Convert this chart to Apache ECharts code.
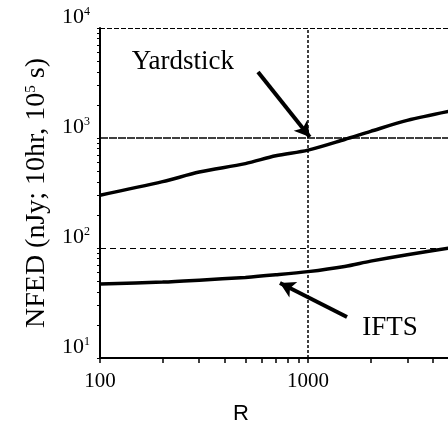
<!DOCTYPE html>
<html>
<head>
<meta charset="utf-8">
<script src="https://cdn.jsdelivr.net/npm/echarts@6/dist/echarts.min.js"></script>
<style>html,body{margin:0;padding:0;background:#fff}#c{width:448px;height:430px}</style>
</head>
<body>
<div id="c"></div>
<script>
// ---- data ----
var rValues = [100, 200, 300, 500, 700, 1000, 1500, 2000, 3000, 5000];
var yardstick = [302, 401, 490, 585, 690, 776, 970, 1150, 1445, 1780];
var ifts = [47, 49, 51, 54, 57, 61, 68, 76, 87, 101];
var xMax = 4710;
var xTickValues = [100,200,300,400,500,600,700,800,900,1000,2000,3000,4000];
var xLabelValues = [100, 1000];
var yTickValues = [10,20,30,40,50,60,70,80,90,100,200,300,400,500,600,700,800,900,1000,2000,3000,4000,5000,6000,7000,8000,9000,10000];
var yLabelValues = [10, 100, 1000, 10000];
var yardstickLabel = 'Yardstick';
var iftsLabel = 'IFTS';
var yardstickTextAt = [250, 4900];
var iftsTextAt = [2480, 18.7];
var yardstickArrow = [[575, 3980], [1020, 1020]];
var iftsArrow = [[1540, 23.6], [733, 48]];

var serif = '"Liberation Serif","DejaVu Serif",serif';
var chart = echarts.init(document.getElementById('c'), null, {renderer: 'canvas'});

function pairs(xs, ys) { return xs.map(function (x, i) { return [x, ys[i]]; }); }

var option = {
  backgroundColor: '#ffffff',
  animation: false,
  grid: {left: 100, top: 28, bottom: 72, right: 0, containLabel: false},
  xAxis: {
    type: 'log', logBase: 10, min: 100, max: xMax,
    name: 'R', nameLocation: 'middle', nameGap: 45,
    nameTextStyle: {fontFamily: '"Liberation Sans",Arial,sans-serif', fontSize: 22, color: '#000', padding: [0, 66, 0, 0]},
    axisLine: {show: true, lineStyle: {color: '#000', width: 2}},
    axisTick: {show: true, length: 5, lineStyle: {color: '#000', width: 1.5}, customValues: xTickValues},
    minorTick: {show: false},
    axisLabel: {customValues: xLabelValues, color: '#000', fontFamily: serif, fontSize: 21, margin: 13,
      formatter: function (v) { return String(Math.round(v)); }},
    splitLine: {show: false}
  },
  yAxis: {
    type: 'log', logBase: 10, min: 10, max: 10000,
    name: '{n|NFED (nJy; 10hr, 10}{s|5}{n| s)}', nameLocation: 'middle', nameGap: 45,
    nameTextStyle: {rich: {
      n: {fontFamily: serif, fontSize: 28, color: '#000'},
      s: {fontFamily: serif, fontSize: 15, color: '#000', verticalAlign: 'top', padding: [0, 0, 12, 0]}
    }},
    axisLine: {show: true, lineStyle: {color: '#000', width: 2}},
    axisTick: {show: true, length: 3, lineStyle: {color: '#000', width: 1}, customValues: yTickValues},
    axisLabel: {
      customValues: yLabelValues, margin: 10, verticalAlign: 'bottom',
      formatter: function (v) { return '{b|10}{s|' + Math.round(Math.log10(v)) + '}'; },
      rich: {
        b: {fontFamily: serif, fontSize: 22, color: '#000', verticalAlign: 'bottom'},
        s: {fontFamily: serif, fontSize: 12, color: '#000', verticalAlign: 'top', padding: [0, 0, 10, 0]}
      }
    },
    splitLine: {show: false}
  },
  series: [
    {
      name: 'Yardstick', type: 'line', data: pairs(rValues, yardstick),
      smooth: 0.3, showSymbol: false, symbol: 'none',
      lineStyle: {color: '#000', width: 3.5}, z: 5,
      markLine: {
        silent: true, symbol: ['none', 'arrow'], symbolSize: [13, 15],
        lineStyle: {color: '#000', width: 4, type: 'solid'}, label: {show: false},
        data: [[{coord: yardstickArrow[0]}, {coord: yardstickArrow[1]}]]
      },
      markPoint: {
        symbol: 'circle', symbolSize: 1, itemStyle: {color: 'rgba(0,0,0,0)'},
        label: {show: true, position: 'inside', formatter: yardstickLabel, color: '#000', fontFamily: serif, fontSize: 27},
        data: [{coord: yardstickTextAt}]
      }
    },
    {
      name: 'IFTS', type: 'line', data: pairs(rValues, ifts),
      smooth: 0.3, showSymbol: false, symbol: 'none',
      lineStyle: {color: '#000', width: 3.5}, z: 5,
      markLine: {
        silent: true, symbol: ['none', 'arrow'], symbolSize: [13, 15],
        lineStyle: {color: '#000', width: 4, type: 'solid'}, label: {show: false},
        data: [[{coord: iftsArrow[0]}, {coord: iftsArrow[1]}]]
      },
      markPoint: {
        symbol: 'circle', symbolSize: 1, itemStyle: {color: 'rgba(0,0,0,0)'},
        label: {show: true, position: 'inside', formatter: iftsLabel, color: '#000', fontFamily: serif, fontSize: 27},
        data: [{coord: iftsTextAt}]
      }
    },
    {
      name: 'grid', type: 'line', data: [], z: 1,
      markLine: {
        silent: true, symbol: 'none', label: {show: false},
        data: [
          {yAxis: 10000, lineStyle: {color: '#000', width: 1.2, type: [5, 2]}},
          {yAxis: 1000, lineStyle: {color: '#000', width: 1.5, type: [8, 1]}},
          {yAxis: 100, lineStyle: {color: '#000', width: 1.2, type: [6, 4]}},
          {xAxis: 1000, lineStyle: {color: '#000', width: 1.5, type: [3, 2]}}
        ]
      }
    }
  ]
};
chart.setOption(option);
</script>
</body>
</html>
